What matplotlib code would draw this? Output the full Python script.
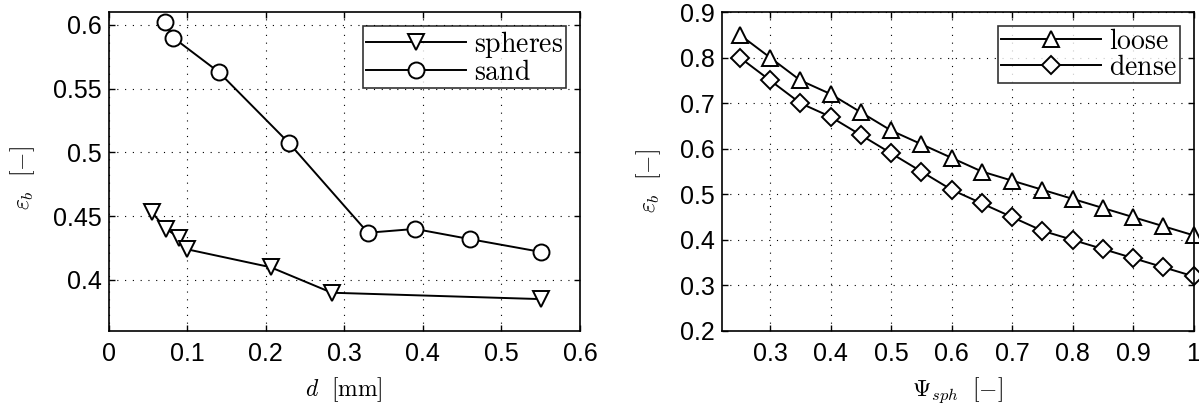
import matplotlib
matplotlib.use("Agg")
import matplotlib.pyplot as plt

plt.rcParams["font.family"] = ["Liberation Sans", "DejaVu Sans"]
plt.rcParams["mathtext.fontset"] = "cm"

# left panel: bed porosity vs grain diameter
d_spheres = [0.055, 0.073, 0.090, 0.100, 0.206, 0.284, 0.550]
eps_spheres = [0.453, 0.440, 0.433, 0.424, 0.410, 0.390, 0.385]
d_sand = [0.072, 0.082, 0.140, 0.230, 0.330, 0.390, 0.460, 0.550]
eps_sand = [0.602, 0.590, 0.563, 0.507, 0.437, 0.440, 0.432, 0.422]

# right panel: bed porosity vs sphericity
psi = [0.25, 0.30, 0.35, 0.40, 0.45, 0.50, 0.55, 0.60,
       0.65, 0.70, 0.75, 0.80, 0.85, 0.90, 0.95, 1.00]
eps_loose = [0.85, 0.80, 0.75, 0.72, 0.68, 0.64, 0.61, 0.58,
             0.55, 0.53, 0.51, 0.49, 0.47, 0.45, 0.43, 0.41]
eps_dense = [0.80, 0.75, 0.70, 0.67, 0.63, 0.59, 0.55, 0.51,
             0.48, 0.45, 0.42, 0.40, 0.38, 0.36, 0.34, 0.32]

W, H = 1199, 403
fig = plt.figure(figsize=(W / 100, H / 100), dpi=100)
ax1 = fig.add_axes([108.7 / W, (H - 331) / H, 471.3 / W, 319 / H])
ax2 = fig.add_axes([721.7 / W, (H - 331) / H, 471.8 / W, 319 / H])

mk = dict(color="k", lw=1.4, ms=11.5, mfc="white", mec="k", mew=1.4, clip_on=False)
ax1.plot(d_spheres, eps_spheres, marker="v", label=r"$\mathrm{spheres}$", **mk)
ax1.plot(d_sand, eps_sand, marker="o", label=r"$\mathrm{sand}$", **mk)
ax2.plot(psi, eps_loose, marker="^", label=r"$\mathrm{loose}$", **mk)
ax2.plot(psi, eps_dense, marker="D", label=r"$\mathrm{dense}$", **{**mk, "ms": 9.5})

ax1.set_xlim(0, 0.6)
ax1.set_ylim(0.36, 0.61)
ax1.set_xticks([0, 0.1, 0.2, 0.3, 0.4, 0.5, 0.6])
ax1.set_xticklabels(["0", "0.1", "0.2", "0.3", "0.4", "0.5", "0.6"])
ax1.set_yticks([0.4, 0.45, 0.5, 0.55, 0.6])
ax1.set_yticklabels(["0.4", "0.45", "0.5", "0.55", "0.6"])

ax2.set_xlim(0.22, 1.0)
ax2.set_ylim(0.2, 0.9)
ax2.set_xticks([0.3, 0.4, 0.5, 0.6, 0.7, 0.8, 0.9, 1.0])
ax2.set_xticklabels(["0.3", "0.4", "0.5", "0.6", "0.7", "0.8", "0.9", "1"])
ax2.set_yticks([0.2, 0.3, 0.4, 0.5, 0.6, 0.7, 0.8, 0.9])
ax2.set_yticklabels(["0.2", "0.3", "0.4", "0.5", "0.6", "0.7", "0.8", "0.9"])

for ax in (ax1, ax2):
    ax.grid(True, color="k", linestyle=(0, (1, 6)), linewidth=0.8)
    ax.tick_params(direction="in", length=4, width=1, labelsize=18,
                   top=True, right=True)
    ax.tick_params(axis="x", pad=8)
    ax.tick_params(axis="y", pad=5)
    for s in ax.spines.values():
        s.set_linewidth(1.2)
    leg = ax.legend(loc="upper right", fontsize=20, handlelength=3.6,
                    frameon=True, fancybox=False, borderpad=0.1,
                    labelspacing=0.0, handletextpad=0.3,
                    borderaxespad=0.5)
    leg.get_frame().set_edgecolor("k")
    leg.get_frame().set_linewidth(1.2)

ax1.set_xlabel(r"$d\ \ [\mathrm{mm}]$", fontsize=17)
ax1.set_ylabel(r"$\varepsilon_b\ \ [-]$", fontsize=17)
ax2.set_xlabel(r"$\Psi_{sph}\ \ [-]$", fontsize=17)
ax2.set_ylabel(r"$\varepsilon_b\ \ [-]$", fontsize=17)
ax1.xaxis.set_label_coords(0.5, -0.14)
ax2.xaxis.set_label_coords(0.5, -0.14)
ax1.yaxis.set_label_coords(-0.152, 0.48)
ax2.yaxis.set_label_coords(-0.124, 0.47)

fig.savefig("out.png", dpi=100)
